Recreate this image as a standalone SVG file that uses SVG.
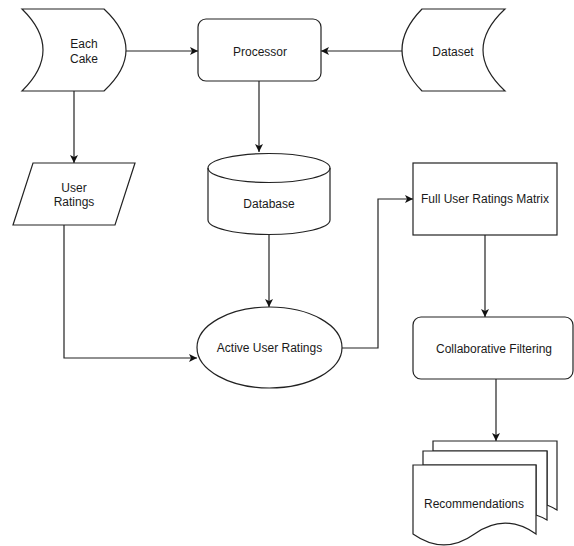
<svg xmlns="http://www.w3.org/2000/svg" width="574" height="546" viewBox="0 0 574 546">
<defs>
<style>
.s{fill:#fff;stroke:#222;stroke-width:1.2;}
.c{fill:none;stroke:#222;stroke-width:1.2;}
text{font-family:"Liberation Sans",Arial,sans-serif;font-size:12px;fill:#1a1a1a;text-anchor:middle;}
</style>
<marker id="ah" markerUnits="userSpaceOnUse" markerWidth="10" markerHeight="10" refX="8" refY="4" orient="auto">
<path d="M0,0 L8,4 L0,8 L2,4 Z" fill="#111" stroke="none"/>
</marker>
</defs>
<rect width="574" height="546" fill="#fff"/>
<g id="connectors">
<path class="c" d="M126,51 L198,51" marker-end="url(#ah)"/>
<path class="c" d="M402,51 L321,51" marker-end="url(#ah)"/>
<path class="c" d="M259,81 L259,152" marker-end="url(#ah)"/>
<path class="c" d="M74,91 L74,163" marker-end="url(#ah)"/>
<path class="c" d="M269,234 L269,307" marker-end="url(#ah)"/>
<path class="c" d="M64,225 L64,358 L197,358" marker-end="url(#ah)"/>
<path class="c" d="M342,348 L378,348 L378,199 L413,199" marker-end="url(#ah)"/>
<path class="c" d="M485,235 L485,317" marker-end="url(#ah)"/>
<path class="c" d="M496,379 L496,441" marker-end="url(#ah)"/>
</g>
<g id="each-cake">
<path class="s" d="M22,9 L104,9 Q148,50 104,91 L22,91 Q64,50 22,9 Z"/>
<text x="84" y="48">Each</text>
<text x="84" y="63">Cake</text>
</g>
<g id="processor">
<rect class="s" x="198" y="19" width="123" height="62" rx="8"/>
<text x="260" y="55.5">Processor</text>
</g>
<g id="dataset">
<path class="s" d="M422,9 L505,9 Q461,50 505,91 L422,91 Q382,50 422,9 Z"/>
<text x="453" y="55.5">Dataset</text>
</g>
<g id="user-ratings">
<path class="s" d="M33,163 L135,163 L115,225 L13,225 Z"/>
<text x="74" y="192">User</text>
<text x="74" y="206">Ratings</text>
</g>
<g id="database">
<path class="s" d="M208,168 A61,14.5 0 0 1 330,168 L330,220 A61,14.5 0 0 1 208,220 Z"/>
<path class="c" d="M208,168 A61,14.5 0 0 0 330,168"/>
<text x="269" y="208">Database</text>
</g>
<g id="active-user-ratings">
<ellipse class="s" cx="269.5" cy="347.5" rx="72.5" ry="40.5"/>
<text x="269.5" y="351.5">Active User Ratings</text>
</g>
<g id="full-matrix">
<rect class="s" x="413" y="163" width="144" height="72"/>
<text x="485" y="203">Full User Ratings Matrix</text>
</g>
<g id="collaborative-filtering">
<rect class="s" x="413" y="317" width="160" height="62" rx="8"/>
<text x="494" y="353">Collaborative Filtering</text>
</g>
<g id="recommendations">
<path class="s" d="M433,451 L433,441 L557,441 L557,510 Q552,507 547,505 L547,451 Z"/>
<path class="s" d="M423,465 L423,451 L547,451 L547,520 Q542,517 536,515 L536,465 Z"/>
<path class="s" d="M413,465 L536,465 L536,534 Q505,512.2 474.5,534 Q444,555.8 413,534 Z"/>
<text x="474" y="508">Recommendations</text>
</g>
</svg>
